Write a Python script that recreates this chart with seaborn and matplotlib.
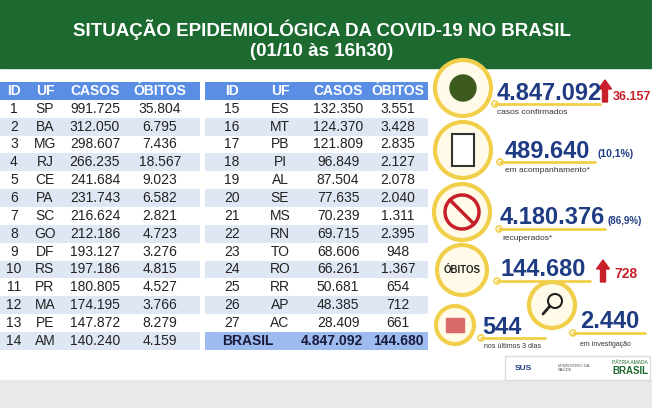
import numpy as np
import matplotlib
matplotlib.use("Agg")
import matplotlib.pyplot as plt
from matplotlib.colors import ListedColormap
from matplotlib.patches import Circle, Rectangle, FancyArrow
import seaborn as sns

sns.set_theme(style="white", font="Liberation Sans")

ids1 = list(range(1, 15))
uf1 = ["SP","BA","MG","RJ","CE","PA","SC","GO","DF","RS","PR","MA","PE","AM"]
casos1 = ["991.725","312.050","298.607","266.235","241.684","231.743","216.624","212.186","193.127","197.186","180.805","174.195","147.872","140.240"]
obitos1 = ["35.804","6.795","7.436","18.567","9.023","6.582","2.821","4.723","3.276","4.815","4.527","3.766","8.279","4.159"]
ids2 = list(range(15, 28))
uf2 = ["ES","MT","PB","PI","AL","SE","MS","RN","TO","RO","RR","AP","AC"]
casos2 = ["132.350","124.370","121.809","96.849","87.504","77.635","70.239","69.715","68.606","66.261","50.681","48.385","28.409"]
obitos2 = ["3.551","3.428","2.835","2.127","2.078","2.040","1.311","2.395","948","1.367","654","712","661"]
total_casos = "4.847.092"
total_obitos = "144.680"
headers = ["ID", "UF", "CASOS", "ÓBITOS"]

W, H = 652, 408
fig = plt.figure(figsize=(W/100, H/100), dpi=100)
bg = fig.add_axes([0, 0, 1, 1])
bg.set_xlim(0, W); bg.set_ylim(H, 0); bg.axis("off")
bg.add_patch(Rectangle((0, 0), W, 68, color="#1d6a31"))
bg.add_patch(Rectangle((0, 380), W, 28, color="#e9e9e9"))
bg.text(322, 30, "SITUAÇÃO EPIDEMIOLÓGICA DA COVID-19 NO BRASIL", color="white",
        fontsize=13.5, fontweight="bold", ha="center", va="center")
bg.text(322, 51, "(01/10 às 16h30)", color="white", fontsize=13.5,
        fontweight="bold", ha="center", va="center")

pitch = 17.85
top = 82
cmap = ListedColormap(["#5a8de4", "#ffffff", "#dfe7f5", "#9dbbef"])

def stripe_axes(x0, x1, n_rows, last_total=False):
    hgt = pitch * (n_rows + 1)
    ax = fig.add_axes([x0/W, 1-(top+hgt)/H, (x1-x0)/W, hgt/H])
    vals = [0] + [1 if i % 2 == 0 else 2 for i in range(n_rows)]
    if last_total:
        vals[-1] = 3
    mat = np.repeat(np.array(vals)[:, None], 4, axis=1)
    sns.heatmap(mat, ax=ax, cmap=cmap, vmin=-0.5, vmax=3.5, cbar=False,
                xticklabels=False, yticklabels=False)
    ax.axis("off")

stripe_axes(0, 200, 14)
stripe_axes(205, 428, 14, last_total=True)

txt = fig.add_axes([0, 0, 1, 1], facecolor="none")
txt.set_xlim(0, W); txt.set_ylim(H, 0); txt.axis("off")

def rowy(i):
    return top + pitch * (i + 1.5)

fs = 10
cols1 = [14, 45, 95, 160]
cols2 = [232, 280, 338, 398]
for cx, h in zip(cols1, headers):
    txt.text(cx, top + pitch/2, h, color="white", fontsize=fs, fontweight="bold", ha="center", va="center")
for cx, h in zip(cols2, headers):
    txt.text(cx, top + pitch/2, h, color="white", fontsize=fs, fontweight="bold", ha="center", va="center")
for i in range(14):
    for cx, v in zip(cols1, [ids1[i], uf1[i], casos1[i], obitos1[i]]):
        txt.text(cx, rowy(i), str(v), fontsize=fs, color="#222222", ha="center", va="center")
for i in range(13):
    for cx, v in zip(cols2, [ids2[i], uf2[i], casos2[i], obitos2[i]]):
        txt.text(cx, rowy(i), str(v), fontsize=fs, color="#222222", ha="center", va="center")
txt.text(248, rowy(13), "BRASIL", fontsize=fs, fontweight="bold", color="#1a1a3a", ha="center", va="center")
txt.text(332, rowy(13), total_casos, fontsize=fs, fontweight="bold", color="#1a1a3a", ha="center", va="center")
txt.text(398, rowy(13), total_obitos, fontsize=fs, fontweight="bold", color="#1a1a3a", ha="center", va="center")

blue = "#1f3b82"; red = "#c8202a"; gold = "#f2cf4a"

def ring(cx, cy, r):
    txt.add_patch(Circle((cx, cy), r, facecolor="#fffbe8", edgecolor=gold, lw=3))

def underline(x0, x1, y):
    txt.plot([x0, x1], [y, y], color=gold, lw=2)
    txt.add_patch(Circle((x0, y), 3, facecolor="white", edgecolor=gold, lw=1.2))

def arrow(x, ybot, ytop):
    txt.add_patch(FancyArrow(x, ybot, 0, ytop-ybot, width=5, head_width=13,
                             head_length=9, color=red, length_includes_head=True))

ring(463, 88, 28)
txt.add_patch(Circle((463, 88), 13, color="#3d5a1e"))
txt.text(497, 93, "4.847.092", fontsize=17, fontweight="bold", color=blue, ha="left", va="center")
arrow(605, 102, 80)
txt.text(613, 97, "36.157", fontsize=9, fontweight="bold", color=red, ha="left", va="center")
underline(495, 600, 104)
txt.text(497, 113, "casos confirmados", fontsize=6, color="#333333", ha="left", va="center")

ring(463, 150, 28)
txt.add_patch(Rectangle((452, 134), 22, 32, facecolor="white", edgecolor="#333333", lw=1.5))
txt.text(505, 151, "489.640", fontsize=17, fontweight="bold", color=blue, ha="left", va="center")
txt.text(598, 154, "(10,1%)", fontsize=7.5, fontweight="bold", color=blue, ha="left", va="center")
underline(500, 595, 162)
txt.text(505, 171, "em acompanhamento*", fontsize=6, color="#333333", ha="left", va="center")

ring(462, 212, 28)
txt.add_patch(Circle((462, 212), 17, facecolor="none", edgecolor=red, lw=2.5))
txt.plot([450, 474], [200, 224], color=red, lw=2.5)
txt.text(500, 218, "4.180.376", fontsize=17, fontweight="bold", color=blue, ha="left", va="center")
txt.text(608, 221, "(86,9%)", fontsize=7, fontweight="bold", color=blue, ha="left", va="center")
underline(499, 605, 229)
txt.text(502, 238, "recuperados*", fontsize=6, color="#333333", ha="left", va="center")

ring(462, 270, 25)
txt.text(462, 270, "ÓBITOS", fontsize=7, fontweight="bold", color="#222222", ha="center", va="center")
txt.text(501, 270, "144.680", fontsize=17, fontweight="bold", color=blue, ha="left", va="center")
arrow(603, 282, 260)
txt.text(614, 274, "728", fontsize=10, fontweight="bold", color=red, ha="left", va="center")
underline(497, 590, 281)

ring(455, 325, 19)
txt.add_patch(Rectangle((446, 318), 18, 14, color="#d96b6b"))
txt.text(482, 328, "544", fontsize=17, fontweight="bold", color=blue, ha="left", va="center")
underline(481, 545, 338)
txt.text(484, 347, "nos últimos 3 dias", fontsize=5, color="#333333", ha="left", va="center")

ring(552, 305, 23)
txt.add_patch(Circle((555, 301), 7, facecolor="none", edgecolor="#222222", lw=1.5))
txt.plot([550, 543], [306, 314], color="#222222", lw=2)
txt.text(580, 322, "2.440", fontsize=17, fontweight="bold", color=blue, ha="left", va="center")
underline(573, 645, 333)
txt.text(580, 344, "em investigação", fontsize=5, color="#333333", ha="left", va="center")

txt.add_patch(Rectangle((505, 356), 145, 24, facecolor="white", edgecolor="#dddddd"))
txt.text(515, 368, "SUS", fontsize=6, fontweight="bold", color=blue, ha="left", va="center")
txt.text(558, 368, "MINISTÉRIO DA\nSAÚDE", fontsize=3, color="#555555", ha="left", va="center")
txt.text(612, 363, "PÁTRIA AMADA", fontsize=3.5, color="#1d6a31", ha="left", va="center")
txt.text(612, 371, "BRASIL", fontsize=7, fontweight="bold", color="#1d6a31", ha="left", va="center")

fig.savefig("out.png", dpi=100)
